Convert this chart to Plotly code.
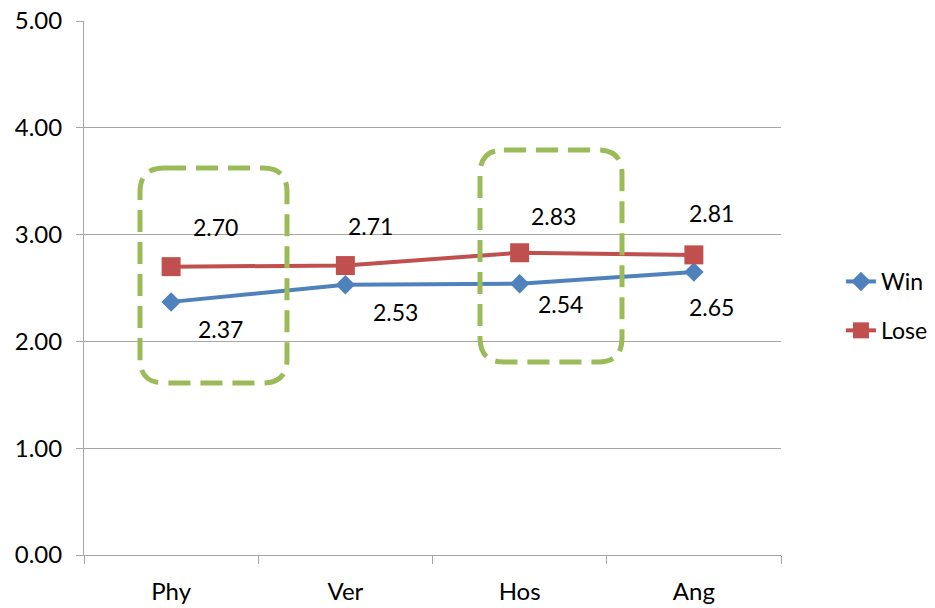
import plotly.graph_objects as go

categories = ["Phy", "Ver", "Hos", "Ang"]
win_values = [2.37, 2.53, 2.54, 2.65]
lose_values = [2.70, 2.71, 2.83, 2.81]
y_tick_values = [0, 1, 2, 3, 4, 5]
y_tick_labels = ["0.00", "1.00", "2.00", "3.00", "4.00", "5.00"]

BLUE = "#4F81BD"
RED = "#C0504D"
GREEN = "#9BBB59"
GRID = "#A6A6A6"
FONT = "Lato"
FS = 23
TFS = 24

# page body has an 8px default margin: figure origin sits at (8, 8) in the window
OFF = 8
W, H = 935, 608
# plot area in window pixels: x 84..781, y 21..555
L = 84 - OFF
T = 21 - OFF
R = W - (781 - OFF)
B = H - (555 - OFF)
PW, PH = W - L - R, H - T - B

# label offsets (px) for data labels, as in the reference (manually placed)
lose_shift = [(44, 40), (25, 40), (34, 37), (18, 42)]
win_shift = [(49, -27), (50, -27), (41, -20), (18, -35)]

fig = go.Figure()
fig.add_trace(go.Scatter(
    x=categories, y=win_values, name="Win", mode="lines+markers",
    line=dict(color=BLUE, width=4),
    marker=dict(symbol="diamond", size=15, color=BLUE),
    legendgroup="a",
))
fig.add_trace(go.Scatter(
    x=categories, y=lose_values, name="Lose", mode="lines+markers",
    line=dict(color=RED, width=4),
    marker=dict(symbol="square", size=19, color=RED),
    legendgroup="b",
))

annotations = []
for c, v, (dx, dy) in zip(categories, lose_values, lose_shift):
    annotations.append(dict(x=c, y=v, text=f"{v:.2f}", showarrow=False,
                            xshift=dx, yshift=dy, font=dict(family=FONT, size=FS, color="#000")))
for c, v, (dx, dy) in zip(categories, win_values, win_shift):
    annotations.append(dict(x=c, y=v, text=f"{v:.2f}", showarrow=False,
                            xshift=dx, yshift=dy, font=dict(family=FONT, size=FS, color="#000")))


def rounded_rect(px0, py0, px1, py1, r):
    """window-pixel box -> paper-coord path with rounded corners"""
    def X(p):
        return (p - OFF - L) / PW

    def Y(p):
        return (H - B - (p - OFF)) / PH
    pts = [
        f"M {X(px0 + r)},{Y(py0)}",
        f"L {X(px1 - r)},{Y(py0)}",
        f"Q {X(px1)},{Y(py0)} {X(px1)},{Y(py0 + r)}",
        f"L {X(px1)},{Y(py1 - r)}",
        f"Q {X(px1)},{Y(py1)} {X(px1 - r)},{Y(py1)}",
        f"L {X(px0 + r)},{Y(py1)}",
        f"Q {X(px0)},{Y(py1)} {X(px0)},{Y(py1 - r)}",
        f"L {X(px0)},{Y(py0 + r)}",
        f"Q {X(px0)},{Y(py0)} {X(px0 + r)},{Y(py0)}",
        "Z",
    ]
    return " ".join(pts)


shapes = []
for box in [(140, 168, 287, 383), (480, 150, 622, 362)]:
    shapes.append(dict(type="path", xref="paper", yref="paper",
                       path=rounded_rect(*box, 24),
                       line=dict(color=GREEN, width=5, dash="22px,10px"),
                       fillcolor="rgba(0,0,0,0)", layer="above"))

fig.update_layout(
    width=W, height=H,
    margin=dict(l=L, r=R, t=T, b=B, pad=0, autoexpand=False),
    paper_bgcolor="white", plot_bgcolor="white",
    font=dict(family=FONT, size=FS, color="#000"),
    showlegend=True,
    legend=dict(x=1.086, y=(555 - 306) / PH, xanchor="left", yanchor="middle",
                traceorder="grouped", tracegroupgap=16,
                font=dict(family=FONT, size=FS, color="#000"),
                bgcolor="rgba(0,0,0,0)"),
    xaxis=dict(
        type="category", range=[-0.5, len(categories) - 0.5],
        showgrid=False, showline=True, linecolor=GRID, linewidth=1,
        ticks="outside", ticklen=8, tickcolor=GRID, tickson="boundaries",
        ticklabelstandoff=15, zeroline=False, automargin=False,
        ticklabeloverflow="allow",
        tickfont=dict(family=FONT, size=TFS, color="#000"),
    ),
    yaxis=dict(
        range=[0, 5], tickvals=y_tick_values, ticktext=y_tick_labels,
        showgrid=True, gridcolor=GRID, gridwidth=1,
        showline=True, linecolor=GRID, linewidth=1,
        ticks="outside", ticklen=7, tickcolor=GRID, zeroline=False,
        ticklabelstandoff=9, automargin=False,
        ticklabeloverflow="allow",
        tickfont=dict(family=FONT, size=TFS, color="#000"),
    ),
    annotations=annotations,
    shapes=shapes,
)

fig.write_html("out.html")
